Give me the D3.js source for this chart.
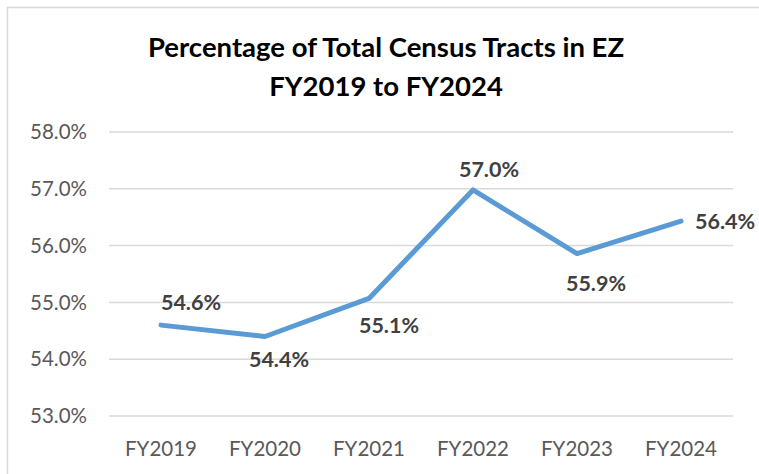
<!DOCTYPE html>
<html>
<head>
<meta charset="utf-8">
<script src="https://cdn.jsdelivr.net/npm/d3@7"></script>
<style>
  body { margin: 0; background: #fff; }
  svg { display: block; }
</style>
</head>
<body>
<svg id="chart"></svg>
<script>
// data
var years = ["FY2019", "FY2020", "FY2021", "FY2022", "FY2023", "FY2024"];
var pct = [54.6, 54.4, 55.07, 56.98, 55.86, 56.43];
var labelPos = ["above", "below", "below", "above", "below", "right"];
var yTicks = [53, 54, 55, 56, 57, 58];

var width = 759;
var height = 474;
var font = "Lato, 'Open Sans', sans-serif";

// label nudges, as placed in the original
var labelDx = [30, 14, 20, 16, 19, 14];
var labelDy = [-23, 23, 27, -20, 30, 0];

var svg = d3.select("#chart")
    .attr("width", width)
    .attr("height", height);

// chart frame
svg.append("rect")
    .attr("x", 7.5).attr("y", 7.5)
    .attr("width", 770).attr("height", 480)
    .attr("fill", "#fff")
    .attr("stroke", "#d9d9d9")
    .attr("stroke-width", 1.5);

// title
var title = svg.append("text")
    .attr("text-anchor", "middle")
    .style("font-family", font)
    .style("font-weight", "bold")
    .style("font-size", "27.5px")
    .attr("fill", "#000");
title.append("tspan").attr("x", 386).attr("y", 57).text("Percentage of Total Census Tracts in EZ");
title.append("tspan").attr("x", 386).attr("y", 96).text("FY2019 to FY2024");

var x = d3.scaleBand()
    .domain(years)
    .range([109, 733]);

var y = d3.scaleLinear()
    .domain([53, 58])
    .range([416, 132]);

// gridlines
svg.append("g")
    .selectAll("line")
    .data(yTicks)
    .join("line")
    .attr("x1", 109).attr("x2", 733)
    .attr("y1", d => y(d)).attr("y2", d => y(d))
    .attr("stroke", "#d9d9d9")
    .attr("stroke-width", 1.5);

// y axis labels
svg.append("g")
    .selectAll("text")
    .data(yTicks)
    .join("text")
    .attr("x", 87)
    .attr("y", d => y(d))
    .attr("dy", "0.35em")
    .attr("text-anchor", "end")
    .style("font-family", font)
    .style("font-size", "20.5px")
    .attr("fill", "#595959")
    .text(d => d.toFixed(1) + "%");

// x axis labels
svg.append("g")
    .selectAll("text")
    .data(years)
    .join("text")
    .attr("x", d => x(d) + x.bandwidth() / 2)
    .attr("y", 456)
    .attr("text-anchor", "middle")
    .style("font-family", font)
    .style("font-size", "20.5px")
    .attr("fill", "#595959")
    .text(d => d);

var pts = years.map((d, i) => ({ year: d, v: pct[i], pos: labelPos[i], i: i }));

var line = d3.line()
    .x(d => x(d.year) + x.bandwidth() / 2)
    .y(d => y(d.v));

svg.append("path")
    .datum(pts)
    .attr("d", line)
    .attr("fill", "none")
    .attr("stroke", "#5b9bd5")
    .attr("stroke-width", 5)
    .attr("stroke-linecap", "round")
    .attr("stroke-linejoin", "round");

// data labels
svg.append("g")
    .selectAll("text")
    .data(pts)
    .join("text")
    .attr("x", d => x(d.year) + x.bandwidth() / 2 + labelDx[d.i])
    .attr("y", d => y(d.v) + labelDy[d.i])
    .attr("dy", "0.35em")
    .attr("text-anchor", d => d.pos === "right" ? "start" : "middle")
    .style("font-family", font)
    .style("font-weight", "bold")
    .style("font-size", "21.5px")
    .attr("fill", "#404040")
    .text(d => d.v.toFixed(1) + "%");
</script>
</body>
</html>
